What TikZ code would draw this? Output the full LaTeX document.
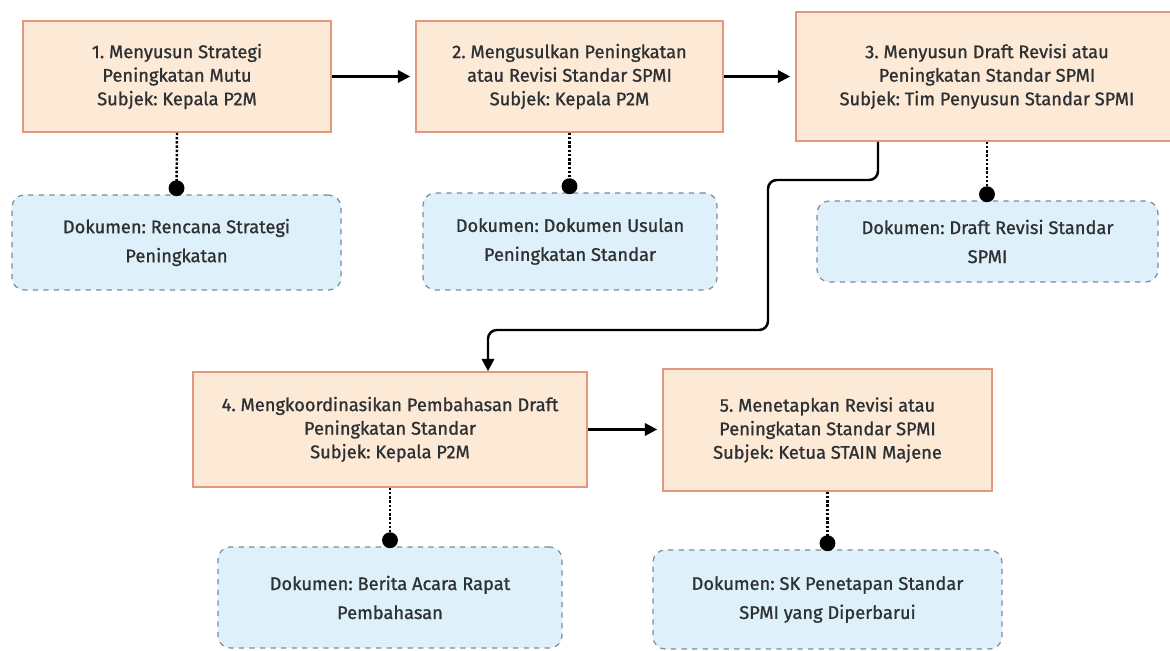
\documentclass[tikz,border=0pt]{standalone}
\usepackage{fontspec}
\setmainfont{Fira Sans}
\newfontfamily\tebal{Fira Sans}[FakeBold=1.0]
\frenchspacing
\usetikzlibrary{arrows.meta}
\definecolor{kotakisi}{HTML}{FCEAD6}
\definecolor{kotakgaris}{HTML}{E3977E}
\definecolor{dokisi}{HTML}{DEF1FB}
\definecolor{dokgaris}{HTML}{7E8B98}
\definecolor{teks}{HTML}{2E3133}
\tikzset{
	langkah/.style={draw=kotakgaris, fill=kotakisi, line width=0.9pt, align=center, text=teks, font=\tebal\fontsize{10.4}{13.4}\selectfont},
	dokumen/.style={draw=dokgaris, fill=dokisi, dashed, line width=0.7pt, rounded corners=7pt, align=center, text=teks, font=\tebal\fontsize{10.4}{16.5}\selectfont},
	alur/.style={line width=1.4pt, -{Triangle[length=7pt, width=7pt]}},
	titik/.style={line width=1.4pt, densely dotted, -{Circle[length=9pt, sep=-1pt]}}
}

\begin{document}
\begin{tikzpicture}[x=0.2mm, y=-0.2mm]
			%%%%% START %%%%%
			\useasboundingbox[fill=white] (0, 0) rectangle (1170, 651);
			
			% baris atas
			\node[langkah, minimum width=61.6mm, minimum height=22.2mm] (l1) at (177, 76.5) {1. Menyusun Strategi\\Peningkatan Mutu\\Subjek: Kepala P2M};
			\node[langkah, minimum width=61.4mm, minimum height=22.2mm] (l2) at (569.5, 76.5) {2. Mengusulkan Peningkatan\\atau Revisi Standar SPMI\\Subjek: Kepala P2M};
			\node[langkah, minimum width=76.4mm, minimum height=25.8mm] (l3) at (987, 76.5) {3. Menyusun Draft Revisi atau\\Peningkatan Standar SPMI\\Subjek: Tim Penyusun Standar SPMI};
			
			\node[dokumen, minimum width=65.8mm, minimum height=19mm] (d1) at (176.5, 242.5) {Dokumen: Rencana Strategi\\Peningkatan};
			\node[dokumen, minimum width=58.8mm, minimum height=19.4mm] (d2) at (570, 241.5) {Dokumen: Dokumen Usulan\\Peningkatan Standar};
			\node[dokumen, minimum width=68.2mm, minimum height=16.2mm] (d3) at (987.5, 241.5) {Dokumen: Draft Revisi Standar\\SPMI};
			
			% baris bawah
			\node[langkah, minimum width=78.8mm, minimum height=23mm] (l4) at (390, 429.5) {4. Mengkoordinasikan Pembahasan Draft\\Peningkatan Standar\\Subjek: Kepala P2M};
			\node[langkah, minimum width=65.8mm, minimum height=24.4mm] (l5) at (827.5, 430) {5. Menetapkan Revisi atau\\Peningkatan Standar SPMI\\Subjek: Ketua STAIN Majene};
			
			\node[dokumen, minimum width=68.8mm, minimum height=20.2mm] (d4) at (390, 597.5) {Dokumen: Berita Acara Rapat\\Pembahasan};
			\node[dokumen, minimum width=69.8mm, minimum height=19.8mm] (d5) at (827.5, 599.5) {Dokumen: SK Penetapan Standar\\SPMI yang Diperbarui};
			
			% alur
			\draw[alur, shorten >=1mm] (l1.east) -- (l2.west);
			\draw[alur, shorten >=1mm] (l2.east) -- (l3.west);
			\draw[alur, shorten >=1mm] (l4.east) -- (l4.east -| l5.west);
			
			\coordinate (k3) at (878, 0);
			\coordinate (k4) at (488, 0);
			\draw[alur, rounded corners=5pt] (l3.south -| k3) |- (768, 180) |- (488, 330) -- (l4.north -| k4);
			
			% dokumen
			\draw[titik] (l1.south) -- (d1.north);
			\draw[titik] (l2.south) -- (d2.north -| l2.south);
			\draw[titik] (l3.south) -- (d3.north -| l3.south);
			\draw[titik] (l4.south) -- (d4.north);
			\draw[titik] (l5.south) -- (d5.north);
			%%%%% END %%%%%
		\end{tikzpicture}
\end{document}
